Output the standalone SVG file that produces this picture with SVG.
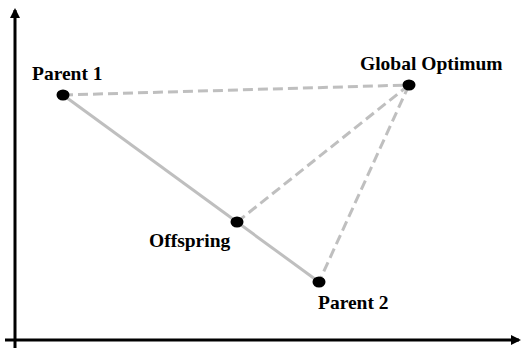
<svg xmlns="http://www.w3.org/2000/svg" width="523" height="349" viewBox="0 0 523 349">
<style>
.lbl{font-family:"Liberation Serif","Times New Roman",serif;font-weight:bold;font-size:19.5px;fill:#000}
.solid{stroke:#bfbfbf;stroke-width:3;fill:none}
.dash{stroke:#bfbfbf;stroke-width:3;fill:none;stroke-dasharray:10 5}
.axis{stroke:#000;stroke-width:3;fill:none}
.dot{fill:#000}
</style>
<defs>
<marker id="arr" markerWidth="10" markerHeight="10" refX="8" refY="5" orient="auto" markerUnits="userSpaceOnUse">
<path d="M0,0 L10,5 L0,10 Z" fill="#000"/>
</marker>
</defs>
<g id="axes">
<line class="axis" x1="15" y1="348" x2="15" y2="10" marker-end="url(#arr)"/>
<line class="axis" x1="5" y1="340" x2="519" y2="340" marker-end="url(#arr)"/>
</g>
<g id="connectors">
<line class="solid" x1="63" y1="95" x2="319" y2="282"/>
<line class="dash" x1="63" y1="95" x2="409" y2="85"/>
<line class="dash" x1="409" y1="85" x2="237" y2="222"/>
<line class="dash" x1="409" y1="85" x2="319" y2="282"/>
</g>
<g id="parent1">
<ellipse class="dot" cx="63" cy="95" rx="6.5" ry="5.5"/>
<text class="lbl" x="32" y="80">Parent 1</text>
</g>
<g id="global">
<ellipse class="dot" cx="409" cy="85" rx="6.5" ry="5.5"/>
<text class="lbl" x="360" y="70">Global Optimum</text>
</g>
<g id="offspring">
<ellipse class="dot" cx="237" cy="222" rx="6.5" ry="5.5"/>
<text class="lbl" x="149" y="247">Offspring</text>
</g>
<g id="parent2">
<ellipse class="dot" cx="319" cy="282" rx="6.5" ry="5.5"/>
<text class="lbl" x="318" y="309">Parent 2</text>
</g>
</svg>
